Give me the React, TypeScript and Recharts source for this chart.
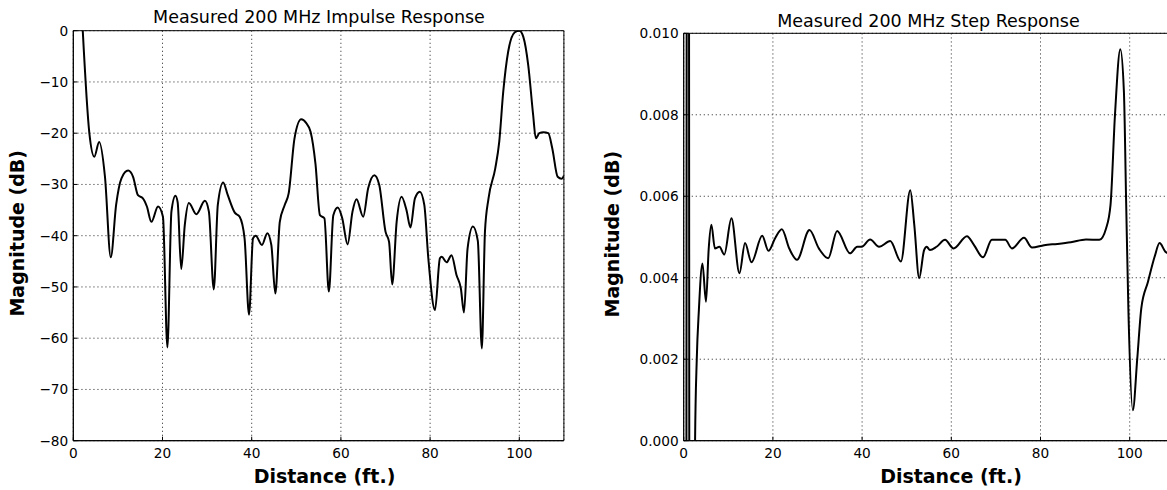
import {
  CartesianGrid,
  Line,
  LineChart,
  ReferenceArea,
  XAxis,
  YAxis,
} from "recharts";

const impulseDistance = [
  2.0, 3.6, 4.7, 5.8, 7.1, 8.4, 9.6, 10.8, 12.3, 13.4, 14.5, 15.6, 16.5, 17.5,
  19.0, 20.1, 21.1, 22.0, 22.9, 23.4, 24.2, 25.0, 25.9, 27.6, 29.5, 30.4, 31.5,
  32.4, 33.6, 34.6, 36.2, 37.3, 38.4, 39.4, 40.3, 40.9, 42.3, 43.5, 44.4, 45.3,
  46.3, 47.4, 48.3, 49.6, 51.1, 52.2, 53.2, 54.3, 55.3, 56.3, 57.3, 58.3, 59.3,
  60.3, 61.5, 62.6, 63.5, 65.0, 66.1, 67.5, 68.6, 70.0, 70.8, 71.5, 72.5, 73.6,
  74.7, 75.6, 76.6, 77.7, 78.7, 79.6, 81.1, 82.2, 82.6, 83.7, 84.8, 85.9, 86.9,
  87.6, 88.4, 89.6, 90.7, 91.6, 92.3, 93.1, 94.6, 95.5, 96.4, 97.5, 99.0, 100.0,
  100.9, 102.0, 103.1, 103.7, 104.5, 105.4, 106.5, 107.4, 108.6, 109.5, 110.0,
];
const impulseDb = [
  2, -20, -24.6, -21.7, -28.5, -44.2, -34, -28.8, -27.3, -28.5, -32.1, -32.7,
  -34.3, -37.3, -34.3, -36.3, -61.8, -35.3, -32.2, -33.5, -46.5, -37.9, -33.6,
  -35.8, -33.2, -35.3, -50.5, -34, -29.6, -32, -35.5, -36.3, -40.5, -55.4, -40.5,
  -40, -41.8, -39.5, -41.8, -51.3, -37.3, -34, -31.7, -21, -17.3, -18, -19.7,
  -26, -36, -36.6, -50.9, -36, -34.5, -36.6, -41.7, -35.3, -32.9, -36.3, -30.8,
  -28.2, -30.1, -39.2, -41.2, -49.5, -37.3, -32.4, -35, -38.4, -32.7, -31.4, -34,
  -44.4, -54.5, -44.4, -44.1, -45.2, -43.8, -47.6, -50.3, -55, -42.5, -38.2, -41,
  -62, -39.2, -32.7, -26.9, -21.7, -11.9, -4.1, -0.3, 0, -1.2, -6.7, -16.4, -21,
  -20, -19.8, -20, -23, -28.5, -28.9, -28.3,
];

const stepDistance = [
  0.6, 1.0, 1.3, 2.4, 2.55, 2.93, 3.4, 4.2, 5.0, 5.6, 6.2, 7.0, 8.0, 9.1, 10.7,
  12.5, 13.75, 15.2, 17.6, 19.0, 20.5, 22.0, 23.7, 25.4, 28.2, 30.3, 32.4, 34.4,
  37.3, 38.9, 39.9, 41.8, 43.8, 46.3, 48.7, 50.8, 51.7, 52.8, 53.9, 54.5, 55.2,
  56.7, 58.6, 60.5, 63.5, 65.1, 67.1, 69.1, 72.1, 73.6, 76.3, 78.1, 80.8, 83.8,
  86.8, 90.2, 93.2, 94.7, 95.7, 96.7, 97.9, 98.7, 99.2, 99.7, 100.7, 101.7, 102.6,
  104.1, 105.6, 106.7, 108.0, 109.0, 110.0,
];
const stepValue = [
  -0.003, 0.05, -0.01, -0.002, 0, 0.002, 0.0032, 0.00435, 0.00341, 0.0047,
  0.0053, 0.00472, 0.00476, 0.00457, 0.00546, 0.00411, 0.00485, 0.00438,
  0.00503, 0.00466, 0.00497, 0.00519, 0.00471, 0.00444, 0.00517, 0.00472,
  0.00448, 0.00515, 0.0046, 0.00476, 0.00476, 0.00494, 0.00476, 0.0049, 0.0044,
  0.00615, 0.0053, 0.00399, 0.00468, 0.00476, 0.00468, 0.00476, 0.00493,
  0.00472, 0.00502, 0.0048, 0.0045, 0.00493, 0.00493, 0.00472, 0.00498, 0.00474,
  0.0048, 0.00483, 0.00487, 0.00494, 0.00493, 0.00521, 0.00579, 0.008, 0.00961,
  0.00857, 0.00587, 0.00325, 0.00075, 0.00202, 0.00325, 0.0039, 0.00452,
  0.00485, 0.00464, 0.00458, 0.00455,
];

const distanceTicks = [0, 20, 40, 60, 80, 100];
const impulseTicks = [-80, -70, -60, -50, -40, -30, -20, -10, 0];
const stepTicks = [0, 0.002, 0.004, 0.006, 0.008, 0.01];

const impulseData = impulseDistance.map((d, i) => ({ d, v: impulseDb[i] }));
const stepData = stepDistance.map((d, i) => ({ d, v: stepValue[i] }));

const FONT = "DejaVu Sans";
const tickStyle = { fill: "#000", fontSize: 13.7, fontFamily: FONT };
const GRID = "#555";
const TICK_LINE = { stroke: "#000" };

function Panel({
  data,
  left,
  width,
  yTicks,
  yDomain,
  yWidth,
  top,
  fmt,
}: {
  data: { d: number; v: number }[];
  left: number;
  width: number;
  yTicks: number[];
  yDomain: [number, number];
  yWidth: number;
  top: number;
  fmt: (v: number) => string;
}) {
  return (
    <div style={{ position: "absolute", left, top: 0 }}>
      <LineChart
        width={width}
        height={490}
        data={data}
        margin={{ top, right: width - yWidth - 490.6, bottom: 19.3, left: 0 }}
      >
        <CartesianGrid
          stroke={GRID}
          strokeDasharray="1.3 2.7"
          strokeWidth={1}
        />
        <XAxis
          type="number"
          dataKey="d"
          domain={[0, 110]}
          ticks={distanceTicks}
          allowDataOverflow
          height={30}
          tickLine={TICK_LINE}
          tickSize={-4}
          tickMargin={12}
          axisLine={{ stroke: "#000" }}
          tick={tickStyle}
        />
        {/* mirror axes only for the inward tick marks on top and right */}
        <XAxis
          xAxisId="top"
          orientation="top"
          type="number"
          domain={[0, 110]}
          ticks={distanceTicks}
          allowDataOverflow
          height={0}
          tickLine={TICK_LINE}
          tickSize={-4}
          tick={false}
          axisLine={false}
        />
        <YAxis
          type="number"
          domain={yDomain}
          ticks={yTicks}
          allowDataOverflow
          width={yWidth}
          tickLine={TICK_LINE}
          tickSize={-4}
          tickMargin={9}
          axisLine={{ stroke: "#000" }}
          tick={tickStyle}
          tickFormatter={fmt}
        />
        <YAxis
          yAxisId="right"
          orientation="right"
          type="number"
          domain={yDomain}
          ticks={yTicks}
          allowDataOverflow
          width={0}
          tickLine={TICK_LINE}
          tickSize={-4}
          tick={false}
          axisLine={false}
        />
        <Line
          type="monotone"
          dataKey="v"
          stroke="#000"
          strokeWidth={2}
          dot={false}
          isAnimationActive={false}
        />
        <ReferenceArea
          x1={0}
          x2={110}
          y1={yDomain[0]}
          y2={yDomain[1]}
          fill="none"
          stroke="#000"
          strokeWidth={1}
          ifOverflow="visible"
        />
      </LineChart>
    </div>
  );
}

export default function App() {
  const labelStyle = {
    fontFamily: FONT,
    fontWeight: "bold" as const,
    fontSize: 19,
  };
  return (
    <div
      style={{
        position: "absolute",
        left: 0,
        top: 0,
        width: 1167,
        height: 490,
        overflow: "hidden",
        background: "#fff",
      }}
    >
      <Panel
        data={impulseData}
        left={0}
        width={580}
        yTicks={impulseTicks}
        yDomain={[-80, 0]}
        yWidth={73.3}
        top={30.7}
        fmt={(v) => String(v).replace("-", "\u2212")}
      />
      <Panel
        data={stepData}
        left={600}
        width={600}
        yTicks={stepTicks}
        yDomain={[0, 0.01]}
        yWidth={83.7}
        top={33.3}
        fmt={(v) => v.toFixed(3)}
      />
      <svg
        width={1167}
        height={490}
        style={{ position: "absolute", left: 0, top: 0, pointerEvents: "none" }}
      >
        <text x={319} y={23.3} textAnchor="middle" fontFamily={FONT} fontSize={17.5}>
          Measured 200 MHz Impulse Response
        </text>
        <text x={928.5} y={26.7} textAnchor="middle" fontFamily={FONT} fontSize={17.5}>
          Measured 200 MHz Step Response
        </text>
        <text x={324.5} y={483.2} textAnchor="middle" {...labelStyle}>
          Distance (ft.)
        </text>
        <text x={951} y={483.2} textAnchor="middle" {...labelStyle}>
          Distance (ft.)
        </text>
        <text
          x={0}
          y={0}
          textAnchor="middle"
          transform="translate(24 233.3) rotate(-90)"
          {...labelStyle}
        >
          Magnitude (dB)
        </text>
        <text
          x={0}
          y={0}
          textAnchor="middle"
          transform="translate(619 234.2) rotate(-90)"
          {...labelStyle}
        >
          Magnitude (dB)
        </text>
      </svg>
    </div>
  );
}
